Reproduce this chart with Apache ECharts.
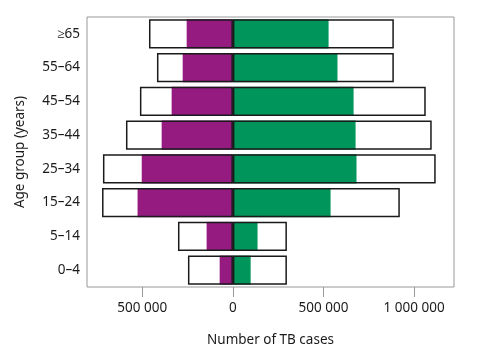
<!DOCTYPE html>
<html><head><meta charset="utf-8">
<script src="https://cdn.jsdelivr.net/npm/echarts@6/dist/echarts.min.js"></script>
<style>html,body{margin:0;padding:0;background:#fff}#c{width:492px;height:363px}</style>
</head><body><div id="c"></div>
<script>
const categories = ['0–4','5–14','15–24','25–34','35–44','45–54','55–64','≥65'];
const femaleTotal = [248000, 303000, 722000, 717000, 590000, 513000, 419000, 463000];
const femaleNotified = [73000, 145000, 526000, 503000, 393000, 338000, 277000, 255000];
const maleTotal = [298000, 298000, 921000, 1119000, 1097000, 1064000, 888000, 888000];
const maleNotified = [98000, 136000, 539000, 682000, 677000, 666000, 577000, 528000];
const tickValues = [-500000, 0, 500000, 1000000];

const purple = '#951b81', green = '#00955a';
const fmt = v => { const a = Math.abs(Math.round(v)); return a.toString().replace(/\B(?=(\d{3})+(?!\d))/g, ' '); };
const font = 'Noto Sans';
const fs = 13.5;
const chart = echarts.init(document.getElementById('c'));
chart.setOption({
  animation: false,
  grid: { left: 87, right: 38, top: 17, bottom: 76, show: true, borderColor: '#999', borderWidth: 1, containLabel: false },
  xAxis: {
    type: 'value', min: -805000, max: 1220000,
    name: 'Number of TB cases', nameLocation: 'middle', nameGap: 46,
    nameTextStyle: { fontFamily: font, fontSize: fs, color: '#1a1a1a' },
    axisLine: { show: false },
    axisTick: { show: true, inside: false, length: 10, lineStyle: { color: '#999' }, customValues: tickValues },
    axisLabel: { fontFamily: font, fontSize: fs, color: '#1a1a1a', margin: 14, formatter: fmt, customValues: tickValues },
    splitLine: { show: false }
  },
  yAxis: {
    type: 'category', data: categories,
    name: 'Age group (years)', nameLocation: 'middle', nameGap: 60, nameRotate: 90,
    nameTextStyle: { fontFamily: font, fontSize: fs, color: '#1a1a1a' },
    axisLine: { show: false }, axisTick: { show: false },
    axisLabel: { fontFamily: font, fontSize: fs, color: '#1a1a1a', margin: 7 }
  },
  series: [
    { type: 'bar', stack: 'n', data: femaleNotified.map(v => -v), itemStyle: { color: purple }, barGap: '-100%', barCategoryGap: '14%' },
    { type: 'bar', stack: 'n', data: maleNotified, itemStyle: { color: green } },
    { type: 'bar', stack: 't', data: femaleTotal.map(v => -v), itemStyle: { color: 'rgba(0,0,0,0)', borderColor: '#1a1a1a', borderWidth: 1.5 }, z: 3 },
    { type: 'bar', stack: 't', data: maleTotal, itemStyle: { color: 'rgba(0,0,0,0)', borderColor: '#1a1a1a', borderWidth: 1.5 }, z: 3 }
  ]
});
</script></body></html>
